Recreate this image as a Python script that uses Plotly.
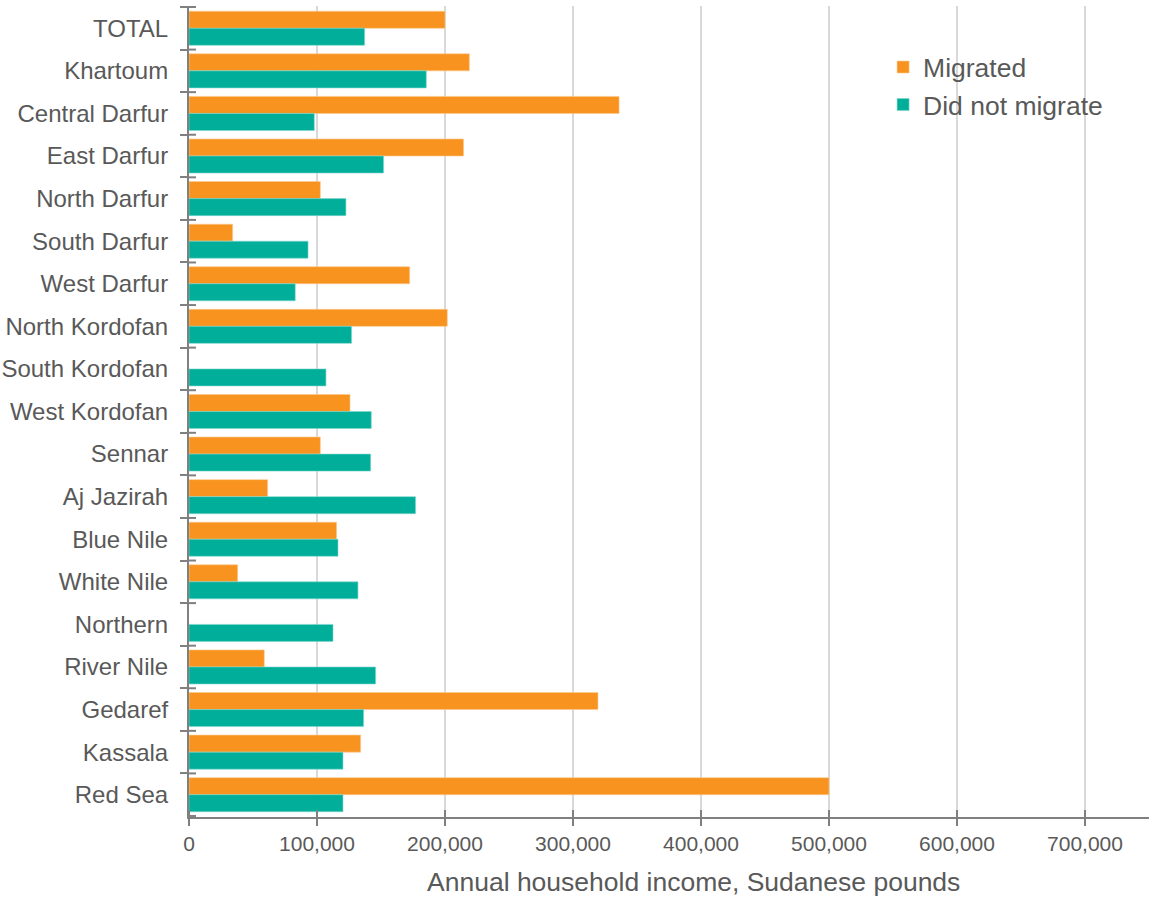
import plotly.graph_objects as go

# Household income by state, grouped by migration status
states = [
    "TOTAL", "Khartoum", "Central Darfur", "East Darfur", "North Darfur",
    "South Darfur", "West Darfur", "North Kordofan", "South Kordofan",
    "West Kordofan", "Sennar", "Aj Jazirah", "Blue Nile", "White Nile",
    "Northern", "River Nile", "Gedaref", "Kassala", "Red Sea",
]
migrated = [
    200000, 219000, 336000, 214500, 102600, 34100, 172400, 201800, None,
    125800, 102600, 61400, 115300, 38000, None, 58800, 319500, 134100, 500000,
]
did_not_migrate = [
    137200, 185400, 97900, 152000, 122600, 93000, 83000, 127000, 107000,
    142400, 141900, 177000, 116400, 132000, 112500, 145800, 136400, 120300, 120300,
]
x_ticks = [0, 100000, 200000, 300000, 400000, 500000, 600000, 700000]

ORANGE = "#F7931E"
TEAL = "#00AE9A"
TEXT = "#595959"
AXIS = "#808080"
FONT = "Liberation Sans, Arial, sans-serif"
TICK = 7

fig = go.Figure()
fig.add_trace(go.Bar(
    y=states, x=migrated, orientation="h", name="Migrated",
    marker=dict(color=ORANGE, line=dict(color="#FBC98E", width=0.6)),
    legendgroup="m",
))
fig.add_trace(go.Bar(
    y=states, x=did_not_migrate, orientation="h", name="Did not migrate",
    marker=dict(color=TEAL, line=dict(color="#7FD6CC", width=0.6)),
    legendgroup="d",
))

# inner half of the crossing tick marks (the outer half comes from the axes)
shapes = []
for i in range(len(states) + 1):
    shapes.append(dict(
        type="line", xref="x", yref="y", xsizemode="pixel", xanchor=0,
        x0=0, x1=TICK, y0=i - 0.5, y1=i - 0.5,
        line=dict(color=AXIS, width=2), layer="above",
    ))
for v in x_ticks:
    shapes.append(dict(
        type="line", xref="x", yref="paper", ysizemode="pixel", yanchor=0,
        x0=v, x1=v, y0=0, y1=TICK,
        line=dict(color=AXIS, width=2), layer="above",
    ))

fig.update_layout(
    width=1149, height=900,
    margin=dict(l=189, r=0, t=6, b=83),
    paper_bgcolor="white", plot_bgcolor="white",
    barmode="group", bargap=0.2, bargroupgap=0,
    font=dict(family=FONT, color=TEXT),
    showlegend=True,
    legend=dict(
        x=0.723, y=0.954, xanchor="left", yanchor="top",
        font=dict(size=26.5, color=TEXT, family=FONT),
        bgcolor="rgba(0,0,0,0)", tracegroupgap=15,
        traceorder="normal",
    ),
    xaxis=dict(
        range=[0, 750000], tickvals=x_ticks,
        ticktext=[f"{v:,}" for v in x_ticks],
        tickfont=dict(size=21, color=TEXT),
        showgrid=True, gridcolor="#D9D9D9", gridwidth=2,
        zeroline=False, showline=True, linecolor=AXIS, linewidth=2,
        ticks="outside", ticklen=TICK, tickwidth=2, tickcolor=AXIS,
        fixedrange=True,
    ),
    yaxis=dict(
        categoryorder="array", categoryarray=states,
        autorange="reversed",
        tickfont=dict(size=24, color=TEXT),
        showline=True, linecolor=AXIS, linewidth=2,
        ticks="outside", ticklen=TICK, tickwidth=2, tickcolor=AXIS,
        tickson="boundaries", showgrid=False, zeroline=False,
        ticklabelstandoff=14,
    ),
    shapes=shapes,
    annotations=[dict(
        text="Annual household income, Sudanese pounds",
        xref="paper", yref="paper", x=0.526, y=-0.08,
        xanchor="center", yanchor="middle", showarrow=False,
        font=dict(size=26.5, color=TEXT, family=FONT),
    )],
)

fig.write_html("out.html")
